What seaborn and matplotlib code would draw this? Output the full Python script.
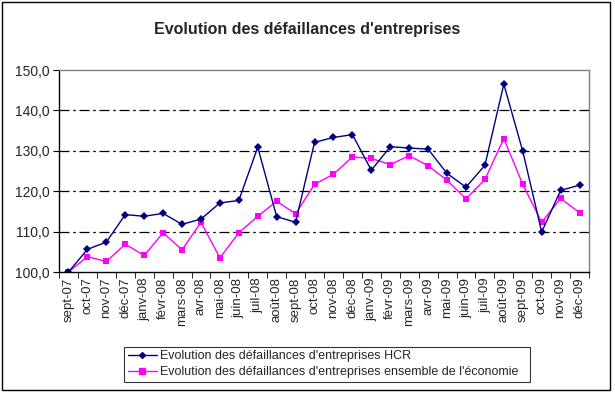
import numpy as np
import pandas as pd
import seaborn as sns
import matplotlib.pyplot as plt
from matplotlib.patches import Rectangle
from matplotlib.ticker import FixedLocator, FuncFormatter

months = ["sept-07", "oct-07", "nov-07", "déc-07", "janv-08", "févr-08", "mars-08",
          "avr-08", "mai-08", "juin-08", "juil-08", "août-08", "sept-08", "oct-08",
          "nov-08", "déc-08", "janv-09", "févr-09", "mars-09", "avr-09", "mai-09",
          "juin-09", "juil-09", "août-09", "sept-09", "oct-09", "nov-09", "déc-09"]

hcr = [100.0, 105.6, 107.4, 114.2, 113.8, 114.5, 111.8, 113.1, 117.1, 117.7, 130.9,
       113.7, 112.3, 132.1, 133.3, 134.0, 125.2, 131.0, 130.7, 130.4, 124.4, 121.0,
       126.4, 146.5, 129.9, 109.9, 120.2, 121.5]

eco = [100.0, 103.8, 102.6, 106.9, 104.1, 109.7, 105.5, 112.3, 103.5, 109.7, 113.8,
       117.5, 114.4, 121.7, 124.2, 128.5, 128.1, 126.6, 128.8, 126.3, 122.7, 118.1,
       122.9, 133.0, 121.7, 112.3, 118.2, 114.7]

lab_hcr = "Evolution des défaillances d'entreprises HCR"
lab_eco = "Evolution des défaillances d'entreprises ensemble de l'économie"

df = pd.DataFrame({"x": list(range(len(months))) * 2,
                   "v": hcr + eco,
                   "serie": [lab_hcr] * len(months) + [lab_eco] * len(months)})

sns.set_style("white")
plt.rcParams['font.family'] = ['Liberation Sans', 'DejaVu Sans']

fig = plt.figure(figsize=(6.15, 3.94), dpi=100)
ax = fig.add_axes([59 / 615, 1 - 272 / 394, 530 / 615, 202 / 394])

sns.lineplot(data=df[df.serie == lab_eco], x="x", y="v", color="#FF00FF", marker="s",
             markersize=4.5, linewidth=1, markeredgewidth=0, ax=ax)
sns.lineplot(data=df[df.serie == lab_hcr], x="x", y="v", color="#000080", marker="D",
             markersize=4, linewidth=1, markeredgewidth=0, ax=ax)

ax.set_xlim(-0.5, len(months) - 0.5)
ax.set_ylim(100, 150)
ax.set_yticks([100, 110, 120, 130, 140, 150])
ax.yaxis.set_major_formatter(FuncFormatter(lambda v, p: f"{v:.1f}".replace(".", ",")))
ax.set_xticks(range(len(months)))
ax.set_xticklabels(months, rotation=90, fontsize=9.5)
ax.xaxis.set_minor_locator(FixedLocator(np.arange(-0.5, len(months), 1)))
ax.tick_params(axis="x", which="major", length=0, pad=4)
ax.tick_params(axis="x", which="minor", length=4, direction="out", color="black", bottom=True)
ax.tick_params(axis="y", labelsize=10, length=4, direction="out", color="black", left=True, pad=3)
ax.set_xlabel("")
ax.set_ylabel("")

for y in [110, 120, 130, 140]:
    ax.axhline(y, color="black", linewidth=0.9, dashes=(8, 3, 2, 3), zorder=0)

for s in ["left", "bottom"]:
    ax.spines[s].set_color("black")
    ax.spines[s].set_linewidth(1)
for s in ["top", "right"]:
    ax.spines[s].set_color("#808080")
    ax.spines[s].set_linewidth(1)

fig.suptitle("Evolution des défaillances d'entreprises", fontsize=11.5, fontweight="bold", y=0.945)

h1, = ax.plot([], [], color="#000080", marker="D", markersize=3, linewidth=1)
h2, = ax.plot([], [], color="#FF00FF", marker="s", markersize=5, linewidth=1)
leg = fig.legend([h1, h2], [lab_hcr, lab_eco], loc="lower left",
                 bbox_to_anchor=(124 / 615, 12 / 394, 406 / 615, 42 / 394), mode="expand",
                 fontsize=9, frameon=True, fancybox=False, handlelength=2.3,
                 borderpad=0.3, labelspacing=0.3, handletextpad=0.3, borderaxespad=0)
leg.get_frame().set_edgecolor("black")
leg.get_frame().set_linewidth(0.8)

fig.patches.append(Rectangle((2 / 615, 4 / 394), 608 / 615, 388 / 394, transform=fig.transFigure,
                             fill=False, edgecolor="black", linewidth=1))

fig.savefig("out.png", dpi=100)
